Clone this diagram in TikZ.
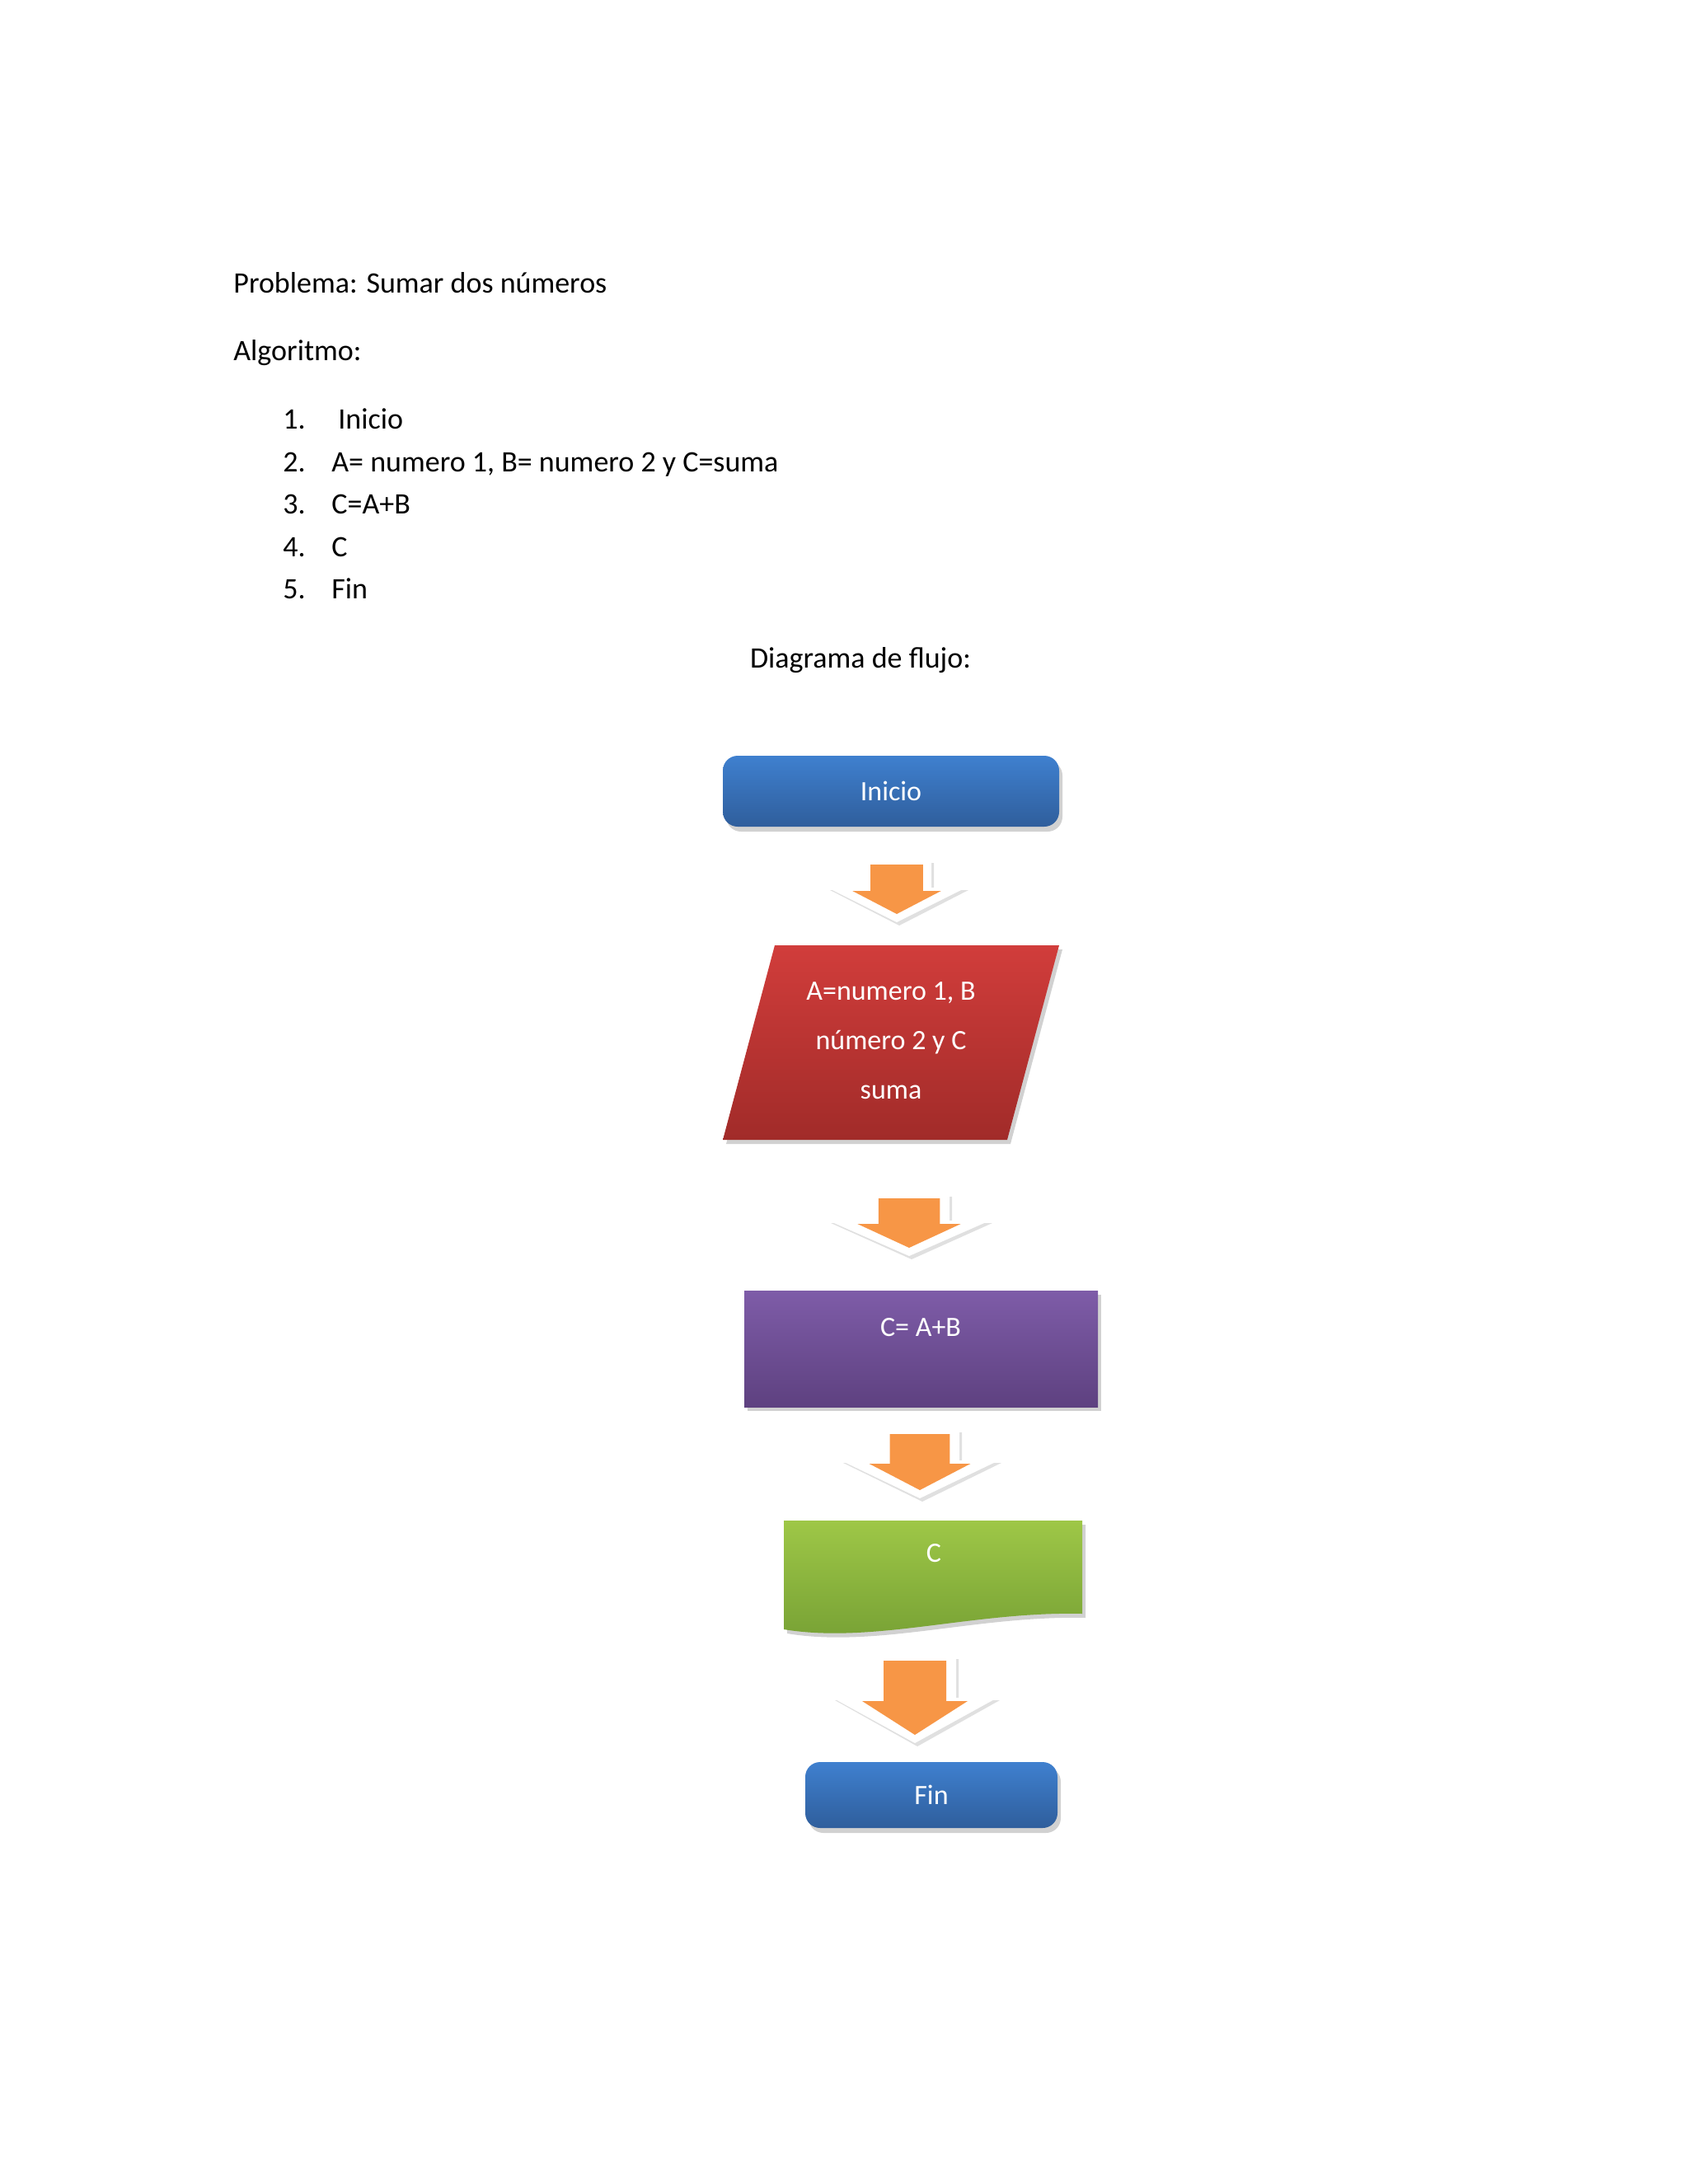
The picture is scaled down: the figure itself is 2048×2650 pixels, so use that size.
\documentclass[tikz,border=0pt]{standalone}
\usepackage{fontspec}
\setmainfont{Carlito}
\definecolor{bluetop}{HTML}{3F80CF}
\definecolor{bluebot}{HTML}{2F5E9C}
\definecolor{redtop}{HTML}{D13D3B}
\definecolor{redbot}{HTML}{A12B29}
\definecolor{purtop}{HTML}{7E5CA8}
\definecolor{purbot}{HTML}{5E4180}
\definecolor{grntop}{HTML}{9EC747}
\definecolor{grnbot}{HTML}{76A034}
\definecolor{orng}{HTML}{F79646}
\tikzset{
  bodytext/.style={anchor=base west,font=\fontsize{18}{22}\selectfont,inner sep=0},
  boxtext/.style={text=white,font=\fontsize{17}{30}\selectfont,align=center,inner sep=0},
  shadowfill/.style={fill=black,opacity=0.18},
}
\newcommand\flowarrow[5]{% cx top wingY tipY wingHalf
  \pgfmathsetmacro\os{0.5*#5}\pgfmathsetmacro\is{0.38*#5}\pgfmathsetmacro\ih{0.64*#5}
  \fill[black,opacity=0.12] ({#1-\os+3},{#2+3}) -- ({#1-\os+3},{#3+3}) -- ({#1-#5+3},{#3+3}) -- ({#1+3},{#4+4}) -- ({#1+#5+3},{#3+3}) -- ({#1+\os+3},{#3+3}) -- ({#1+\os+3},{#2+3}) -- cycle;
  \fill[white] ({#1-\os},#2) -- ({#1-\os},#3) -- ({#1-#5},#3) -- (#1,#4) -- ({#1+#5},#3) -- ({#1+\os},#3) -- ({#1+\os},#2) -- cycle;
  \fill[orng] ({#1-\is},{#2+5}) -- ({#1-\is},{#3+4}) -- ({#1-\ih},{#3+4}) -- (#1,{#4-10}) -- ({#1+\ih},{#3+4}) -- ({#1+\is},{#3+4}) -- ({#1+\is},{#2+5}) -- cycle;
}
\begin{document}
\begin{tikzpicture}[x=0.5pt,y=-0.5pt]
\useasboundingbox[fill=white] (0,0) rectangle (2048,2650);
% texts
\node[bodytext] (title) at (283,355) {Problema: Sumar dos números};
\node[bodytext] (alg) at (283,437) {Algoritmo:};
\node[bodytext] (n1) at (343,520) {1.};
\node[bodytext] (t1) at (410,520) {Inicio};
\node[bodytext] (n2) at (343,572) {2.};
\node[bodytext] (t2) at (402,572) {A= numero 1, B= numero 2 y C=suma};
\node[bodytext] (n3) at (343,623) {3.};
\node[bodytext] (t3) at (402,623) {C=A+B};
\node[bodytext] (n4) at (343,675) {4.};
\node[bodytext] (t4) at (402,675) {C};
\node[bodytext] (n5) at (343,726) {5.};
\node[bodytext] (t5) at (402,726) {Fin};
\node[bodytext,anchor=base] (diag) at (1044,810) {Diagrama de flujo:};
% Inicio
\fill[shadowfill,rounded corners=9pt] (881,923) rectangle (1289,1009);
\shade[top color=bluetop,bottom color=bluebot,rounded corners=9pt] (877,917) rectangle (1285,1003);
\node[boxtext] (inicio) at (1081,960) {Inicio};
\flowarrow{1088}{1044}{1077}{1119}{84}
% Parallelogram
\fill[shadowfill] (944,1152) -- (1289,1152) -- (1226,1388) -- (881,1388) -- cycle;
\shade[top color=redtop,bottom color=redbot] (940,1147) -- (1285,1147) -- (1222,1383) -- (877,1383) -- cycle;
\node[boxtext] (datos) at (1081,1263) {A=numero 1, B\\número 2 y C\\suma};
\flowarrow{1103}{1449}{1481}{1524}{98}
% Purple
\fill[shadowfill] (907,1571) rectangle (1336,1712);
\shade[top color=purtop,bottom color=purbot] (903,1566) rectangle (1332,1707);
\node[boxtext,anchor=base] (proc) at (1117,1621) {C= A+B};
\flowarrow{1116}{1735}{1772}{1818}{96}
% Green document
\fill[shadowfill] (955,1850) -- (1317,1850) -- (1317,1963) .. controls (1184,1960) and (1064,2000) .. (955,1982) -- cycle;
\shade[top color=grntop,bottom color=grnbot] (951,1845) -- (1313,1845) -- (1313,1958) .. controls (1180,1955) and (1060,1995) .. (951,1977) -- cycle;
\node[boxtext] (salida) at (1133,1885) {C};
\flowarrow{1110}{2010}{2060}{2115}{100}
% Fin
\fill[shadowfill,rounded corners=9pt] (981,2144) rectangle (1287,2224);
\shade[top color=bluetop,bottom color=bluebot,rounded corners=9pt] (977,2138) rectangle (1283,2218);
\node[boxtext] (fin) at (1130,2178) {Fin};
\end{tikzpicture}
\end{document}
